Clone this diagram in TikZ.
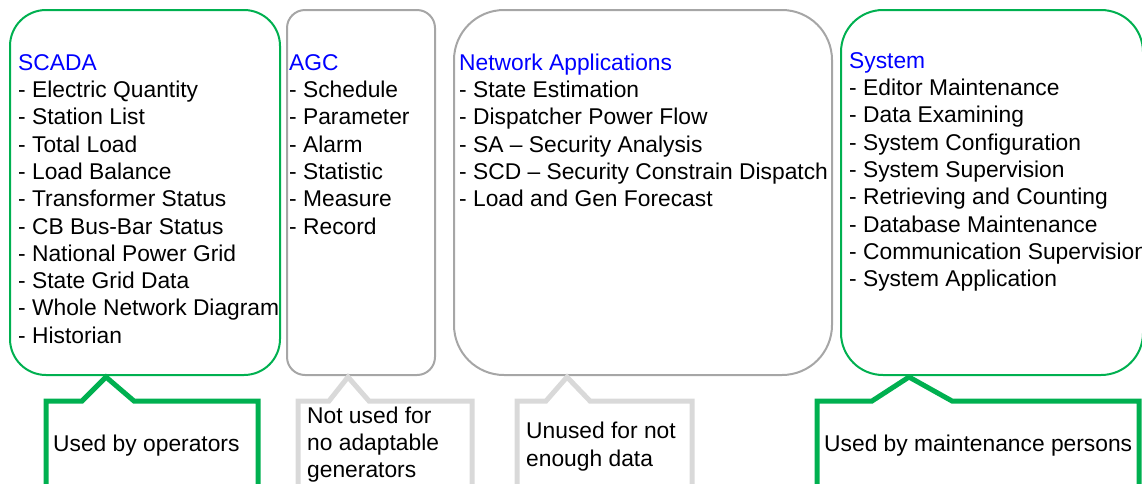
\documentclass[tikz,border=0pt]{standalone}
\usepackage{fontspec}
\setmainfont{Liberation Sans}
\usetikzlibrary{positioning}

\definecolor{panelgreen}{HTML}{00B050}
\definecolor{panelgray}{HTML}{A6A6A6}
\definecolor{notegray}{HTML}{D9D9D9}
\definecolor{headblue}{HTML}{0000FF}

\newcommand{\headline}[1]{\strut\textcolor{headblue}{#1}}

\begin{document}
\begin{tikzpicture}
		[x=1pt,y=-1pt,
		panel/.style={draw=#1,line width=2pt,inner sep=0pt},
		list/.style={anchor=north west,inner sep=0pt,align=left,font=\fontsize{22.8}{27.3}\selectfont},
		note/.style={draw=#1,line width=5pt,line join=miter}]

		\useasboundingbox (0,0) rectangle (1142,483);
		\clip (0,0) rectangle (1142,483);

		% the four groups of functions
		\node[panel=panelgreen,rounded corners=36pt,minimum width=270pt,minimum height=365pt] (scada) at (145,192.5) {};
		\node[panel=panelgray,rounded corners=18pt,minimum width=148pt,minimum height=365pt] (agc) at (361,192.5) {};
		\node[panel=panelgray,rounded corners=50pt,minimum width=378pt,minimum height=365pt] (netapp) at (643,192.5) {};
		\node[panel=panelgreen,rounded corners=42pt,minimum width=302pt,minimum height=365pt] (system) at (992,192.5) {};

		\node[list] (scadalist) at (18,50.9) {\headline{SCADA}\\
			- Electric Quantity\\ - Station List\\ - Total Load\\ - Load Balance\\
			- Transformer Status\\ - CB Bus-Bar Status\\ - National Power Grid\\
			- State Grid Data\\ - Whole Network Diagram\\ - Historian};

		\node[list] (agclist) at (289,50.9) {\headline{AGC}\\
			- Schedule\\ - Parameter\\ - Alarm\\ - Statistic\\ - Measure\\ - Record};

		\node[list] (netapplist) at (459,50.9) {\headline{Network Applications}\\
			- State Estimation\\ - Dispatcher Power Flow\\ - SA -- Security Analysis\\
			- SCD -- Security Constrain Dispatch\\ - Load and Gen Forecast};

		\node[list] (systemlist) at (849,48.9) {\headline{System}\\
			- Editor Maintenance\\ - Data Examining\\ - System Configuration\\
			- System Supervision\\ - Retrieving and Counting\\ - Database Maintenance\\
			- Communication Supervision\\ - System Application};

		% callouts below
		\coordinate (scadatip) at (106,377);
		\coordinate (agctip) at (348,377);
		\coordinate (netapptip) at (567,377);
		\coordinate (systemtip) at (909,377);

		\draw[note=panelgreen] (46,495) -- (46,401) -- (82,401) -- (scadatip) -- (134,401) -- (258,401) -- (258,495);
		\draw[note=notegray] (298,495) -- (298,401) -- (329,401) -- (agctip) -- (369,401) -- (472,401) -- (472,495);
		\draw[note=notegray] (517,495) -- (517,401) -- (546,401) -- (netapptip) -- (590,401) -- (692,401) -- (692,495);
		\draw[note=panelgreen] (817,495) -- (817,401) -- (872,401) -- (systemtip) -- (952,401) -- (1139,401) -- (1139,495);

		\node[list] (scadanote) at (53,431.9) {\strut Used by operators};
		\node[list] (agcnote) at (307,403.9) {\strut Not used for\\ no adaptable\\ generators};
		\node[list] (netappnote) at (526,419.4) {\strut Unused for not\\ enough data};
		\node[list] (systemnote) at (824,431.9) {\strut Used by maintenance persons};
\end{tikzpicture}
\end{document}
